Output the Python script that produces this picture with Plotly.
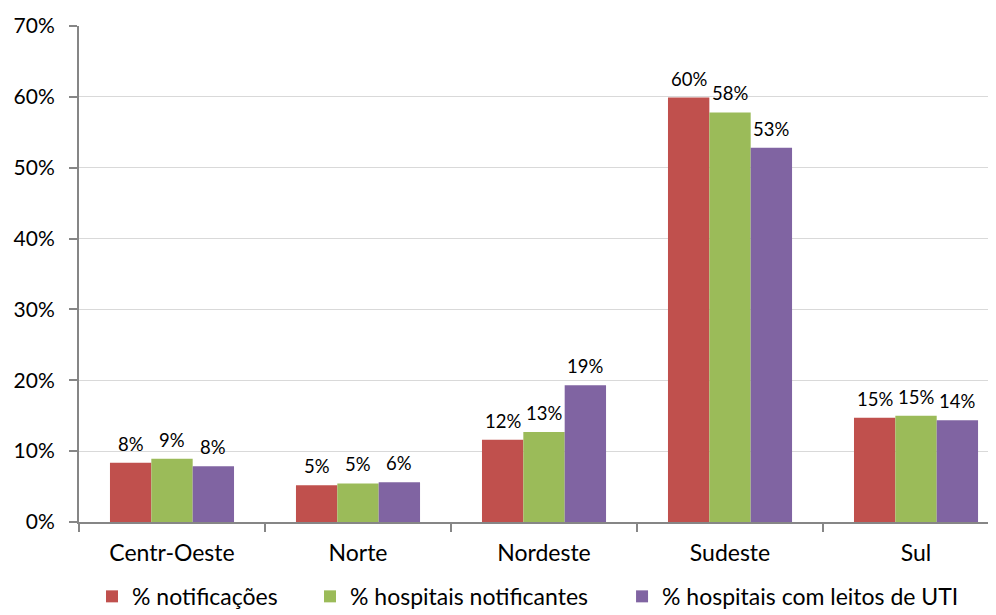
import plotly.graph_objects as go

categories = ["Centr-Oeste", "Norte", "Nordeste", "Sudeste", "Sul"]
notificacoes = [8.37, 5.2, 11.6, 59.9, 14.7]
hosp_notificantes = [8.93, 5.45, 12.7, 57.8, 15.0]
hosp_leitos_uti = [7.86, 5.6, 19.3, 52.8, 14.35]
series_names = ["% notificações", "% hospitais notificantes", "% hospitais com leitos de UTI"]
colors = ["#C0504D", "#9BBB59", "#8064A2"]
y_ticks = [0, 10, 20, 30, 40, 50, 60, 70]
y_ticklabels = [f"{v}%" for v in y_ticks]

FONT = "Lato, 'Open Sans', sans-serif"
legend_ids = ["legend", "legend2", "legend3"]
legend_x = [0.0142, 0.2519, 0.5922]

# figure geometry (page has an 8px body margin)
W, H = 988, 607
ML, MR, MT, MB = 71, 0, 18, 93
X_RANGE = [-0.5, 4.43]
BARGAP = 0.333
plot_w = W - ML - MR
cat_px = plot_w / (X_RANGE[1] - X_RANGE[0])
bar_px = cat_px * (1 - BARGAP) / len(series_names)

fig = go.Figure()
all_series = [notificacoes, hosp_notificantes, hosp_leitos_uti]
for name, vals, col, lid in zip(series_names, all_series, colors, legend_ids):
    fig.add_trace(go.Bar(
        x=categories, y=vals, name=name, legend=lid,
        marker=dict(color=col, line=dict(width=0)),
    ))

annotations = []
for i, vals in enumerate(all_series):
    shift = (i - (len(all_series) - 1) / 2) * bar_px
    for cat, v in zip(categories, vals):
        annotations.append(dict(
            x=cat, y=v, xref="x", yref="y", text=f"{v:.0f}%", showarrow=False,
            xanchor="center", yanchor="bottom", xshift=shift, yshift=6,
            font=dict(size=18.5, family=FONT, color="#000000"),
        ))

legend_common = dict(orientation="h", xanchor="left", y=-0.150, yanchor="middle",
                     font=dict(size=23, family=FONT, color="#000000"), itemwidth=30,
                     bgcolor="rgba(0,0,0,0)")
layout_legends = {lid: dict(x=lx, **legend_common) for lid, lx in zip(legend_ids, legend_x)}

fig.update_layout(
    width=W, height=H,
    margin=dict(l=ML, r=MR, t=MT, b=MB, autoexpand=False),
    paper_bgcolor="white", plot_bgcolor="white",
    barmode="group", bargap=BARGAP, bargroupgap=0,
    font=dict(family=FONT, size=22, color="#000000"),
    showlegend=True,
    annotations=annotations,
    **layout_legends,
)
fig.update_xaxes(
    range=X_RANGE, showline=True, linecolor="#868686", linewidth=2,
    ticks="outside", tickson="boundaries", ticklen=8, tickwidth=2, tickcolor="#868686",
    tickfont=dict(size=23), showgrid=False, automargin=False, ticklabelstandoff=9,
)
fig.update_yaxes(
    range=[0, 70], tickvals=y_ticks, ticktext=y_ticklabels,
    showline=True, linecolor="#868686", linewidth=2,
    ticks="outside", ticklen=8, tickwidth=2, tickcolor="#868686",
    showgrid=True, gridcolor="#D9D9D9", gridwidth=1,
    tickfont=dict(size=21), zeroline=False, automargin=False, ticklabelstandoff=10,
)
fig.write_html("out.html")
